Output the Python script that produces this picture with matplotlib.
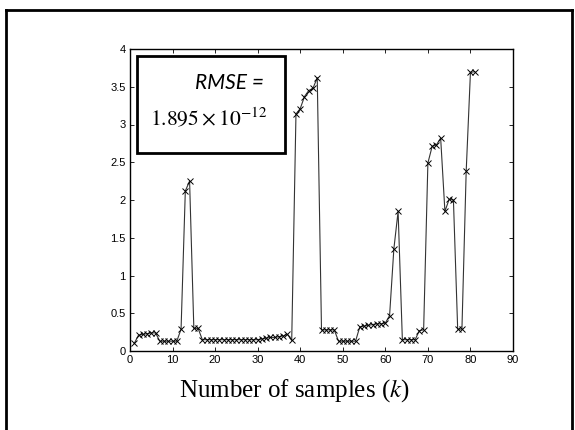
import matplotlib
matplotlib.use("Agg")
import matplotlib.pyplot as plt
from matplotlib.lines import Line2D
from matplotlib.patches import Rectangle

# Data
samples = list(range(1, 82))
values = [
    0.10, 0.21, 0.22, 0.23, 0.24, 0.24,            # 1-6
    0.13, 0.13, 0.13, 0.13, 0.13,                  # 7-11
    0.29, 2.12, 2.25, 0.30, 0.30,                  # 12-16
    0.15, 0.15, 0.15, 0.15, 0.15, 0.15, 0.15,      # 17-23
    0.15, 0.15, 0.15, 0.15, 0.15, 0.15, 0.15,      # 24-30
    0.16, 0.17, 0.18, 0.18, 0.19, 0.20, 0.22,      # 31-37
    0.14, 3.14, 3.21, 3.37, 3.45, 3.48, 3.62,      # 38-44
    0.28, 0.28, 0.28, 0.28,                        # 45-48
    0.13, 0.13, 0.13, 0.13, 0.13,                  # 49-53
    0.32, 0.33, 0.34, 0.35, 0.36, 0.36, 0.37,      # 54-60
    0.47, 1.35, 1.85,                              # 61-63
    0.15, 0.15, 0.15, 0.15,                        # 64-67
    0.27, 0.28,                                    # 68-69
    2.49, 2.71, 2.73, 2.82, 1.85, 2.01, 2.00,      # 70-76
    0.29, 0.29, 2.38, 3.69, 3.70,                  # 77-81
]
x_ticks = [0, 10, 20, 30, 40, 50, 60, 70, 80, 90]
y_ticks = [0, 0.5, 1, 1.5, 2, 2.5, 3, 3.5, 4]
y_tick_labels = ["0", "0.5", "1", "1.5", "2", "2.5", "3", "3.5", "4"]
rmse_label = "RMSE ="
rmse_value = r"$1.895\times10^{-12}$"
x_label = r"Number of samples ($\mathit{k}$)"

plt.rcParams["mathtext.fontset"] = "stix"

W, H = 575, 430
fig = plt.figure(figsize=(W / 100, H / 100), dpi=100)
ax = fig.add_axes([130 / W, 1 - 351 / H, (513 - 130) / W, (351 - 49) / H])

ax.plot(samples, values, color="#333333", linewidth=0.8, marker="x",
        markersize=4, markeredgewidth=0.7, markeredgecolor="black")

ax.set_xlim(0, 90)
ax.set_ylim(0, 4)
ax.set_xticks(x_ticks)
ax.set_yticks(y_ticks)
ax.set_yticklabels(y_tick_labels)
ax.tick_params(direction="in", length=3, width=0.6, top=True, right=True,
               labelsize=8, pad=3)
for lab in ax.get_xticklabels() + ax.get_yticklabels():
    lab.set_family("Liberation Sans")
for sp in ax.spines.values():
    sp.set_linewidth(1.0)

# RMSE box
box = Rectangle((137 / W, 1 - 153 / H), (285 - 137) / W, (153 - 56) / H,
                transform=fig.transFigure, fill=True, facecolor="white",
                edgecolor="black", linewidth=2.0, zorder=5)
fig.patches.append(box)
fig.text(264 / W, 1 - 83 / H, rmse_label, ha="right", va="center",
         fontsize=15, style="italic", family="Lato", zorder=6)
fig.text(150 / W, 1 - 118 / H, rmse_value, ha="left", va="center",
         fontsize=15.5, zorder=6)

# x label: serif with italic k
fig.text(294 / W, 1 - 391 / H, x_label,
         ha="center", va="center", fontsize=18, family="Liberation Serif")

# outer frame
lw = 2.0
fig.add_artist(Line2D([6 / W, 6 / W], [1 - 10 / H, 0], transform=fig.transFigure,
                      color="black", linewidth=lw))
fig.add_artist(Line2D([6 / W, 572 / W], [1 - 10 / H, 1 - 10 / H],
                      transform=fig.transFigure, color="black", linewidth=lw))
fig.add_artist(Line2D([572 / W, 572 / W], [1 - 10 / H, 0],
                      transform=fig.transFigure, color="black", linewidth=lw))

fig.savefig("out.png", dpi=100)
